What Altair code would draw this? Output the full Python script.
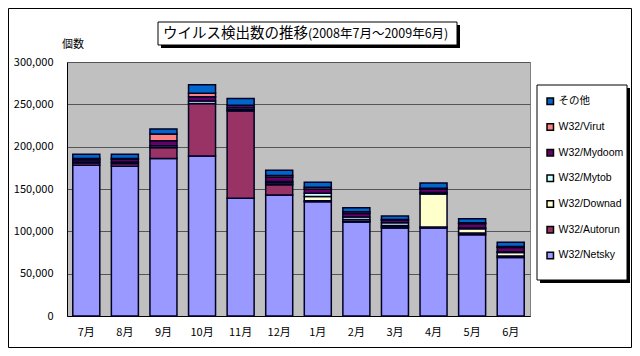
import altair as alt
import pandas as pd

months = ["7月", "8月", "9月", "10月", "11月", "12月", "1月", "2月", "3月", "4月", "5月", "6月"]
series = ["W32/Netsky", "W32/Autorun", "W32/Downad", "W32/Mytob", "W32/Mydoom", "W32/Virut", "その他"]
colors = ["#9999FF", "#993366", "#FFFFCC", "#CCFFFF", "#660066", "#FF8080", "#0066CC"]

netsky = [178000, 177000, 186000, 189000, 139000, 143000, 135000, 111000, 104000, 104000, 96000, 69000]
autorun = [3000, 3000, 13000, 62000, 103000, 12000, 1000, 1000, 1000, 1000, 2000, 2000]
downad = [0, 0, 0, 0, 2000, 2000, 5000, 2000, 2000, 39000, 5000, 4000]
mytob = [2000, 2000, 2000, 3000, 2000, 2000, 4000, 3000, 3000, 2000, 1000, 1000]
mydoom = [2000, 3000, 6000, 5000, 3000, 5000, 5000, 4000, 3000, 4000, 5000, 5000]
virut = [1000, 1000, 8000, 4000, 0, 2000, 2000, 2000, 1000, 1000, 1000, 1000]
other = [5000, 5000, 6000, 10000, 8000, 6000, 6000, 5000, 4000, 6000, 5000, 5000]
y_ticks = [0, 50000, 100000, 150000, 200000, 250000, 300000]

title_main = "ウイルス検出数の推移"
title_sub = "(2008年7月～2009年6月)"
unit_label = "個数"

values = [netsky, autorun, downad, mytob, mydoom, virut, other]
rows = []
for si, (s, vals) in enumerate(zip(series, values)):
    for m, v in zip(months, vals):
        rows.append({"month": m, "series": s, "count": v, "order": si})
df = pd.DataFrame(rows)

legend_order = series[::-1]
legend_colors = colors[::-1]
FONT = "Noto Sans CJK JP"
LEG_FONT = "Liberation Sans, Noto Sans CJK JP"

one = pd.DataFrame({"k": [0]})


def box(x1, x2, y1, y2, **kw):
    return alt.Chart(one).mark_rect(**kw).encode(
        x=alt.value(x1), x2=alt.value(x2), y=alt.value(y1), y2=alt.value(y2)
    )


bars = alt.Chart(df).mark_bar(stroke="#000022", strokeWidth=1.5).encode(
    x=alt.X(
        "month:N",
        sort=months,
        scale=alt.Scale(paddingInner=0.3, paddingOuter=0.15),
        axis=alt.Axis(
            title=None, labelAngle=0, ticks=False, labelPadding=10,
            labelFontSize=11, labelColor="#000000", domainColor="#000000",
            domainWidth=1, grid=False,
        ),
    ),
    y=alt.Y(
        "count:Q",
        stack="zero",
        scale=alt.Scale(domain=[0, 300000], nice=False),
        axis=alt.Axis(
            title=None, values=y_ticks, format=",.0f", ticks=False, labelPadding=14,
            labelFontSize=11, labelColor="#000000", domainColor="#000000",
            gridColor="#555555", gridWidth=1,
        ),
    ),
    color=alt.Color(
        "series:N",
        sort=legend_order,
        scale=alt.Scale(domain=legend_order, range=legend_colors),
        legend=alt.Legend(
            title=None, orient="none", legendX=478, legendY=34, padding=0,
            symbolType="square", symbolSize=42, symbolStrokeColor="#000000",
            symbolStrokeWidth=1.5, symbolOpacity=1, labelFontSize=10.5,
            labelFont=LEG_FONT, labelColor="#000000", labelOffset=3,
            rowPadding=12.7,
        ),
    ),
    order=alt.Order("order:Q", sort="ascending"),
)

outer = box(-58.5, 564.5, -53.5, 285.5, fillOpacity=0, stroke="#000000", strokeWidth=1)
leg_shadow = box(473, 563, 26, 221, fill="#000000")
leg_box = box(470, 560, 23, 218, fill="#FFFFFF", stroke="#000000", strokeWidth=1)
ttl_shadow = box(94, 393, -37, -14, fill="#000000")
ttl_box = box(91, 390, -40, -17, fill="#FFFFFF", stroke="#000000", strokeWidth=1)

t1 = alt.Chart(one).mark_text(
    text=title_main, align="left", baseline="middle", fontSize=14.5, color="#000000"
).encode(x=alt.value(96), y=alt.value(-28.5))
t2 = alt.Chart(one).mark_text(
    text=title_sub, align="left", baseline="middle", fontSize=12.5, color="#000000"
).encode(x=alt.value(241), y=alt.value(-28))
unit = alt.Chart(one).mark_text(
    text=unit_label, align="left", baseline="middle", fontSize=11, color="#000000"
).encode(x=alt.value(-5), y=alt.value(-17))

chart = alt.layer(
    outer, bars, leg_shadow, leg_box, ttl_shadow, ttl_box, t1, t2, unit
).properties(
    width=463,
    height=254,
    padding={"left": 59, "top": 54, "right": 102, "bottom": 32},
    autosize=alt.AutoSizeParams(type="none"),
    background="#FFFFFF",
).configure(font=FONT).configure_view(fill="#C0C0C0", stroke="#808080")

chart.save("out.html", embed_options={"renderer": "svg", "actions": False})
